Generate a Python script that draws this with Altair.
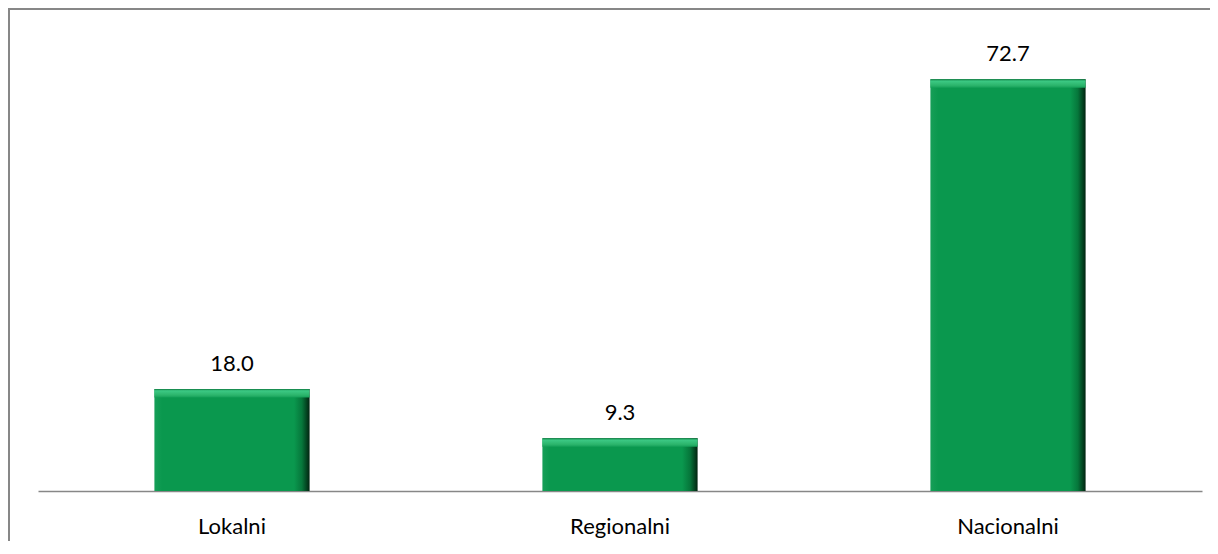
import altair as alt
import pandas as pd

categories = ["Lokalni", "Regionalni", "Nacionalni"]
values = [18.0, 9.3, 72.7]
labels = ["18.0", "9.3", "72.7"]

df = pd.DataFrame({"cat": categories, "val": values, "lab": labels})

FONT = "Lato"

x_enc = alt.X(
    "cat:N",
    sort=categories,
    title=None,
    scale=alt.Scale(paddingInner=0.6, paddingOuter=0.3),
    axis=alt.Axis(
        labelAngle=0,
        labelFont=FONT,
        labelFontSize=22,
        labelFontWeight="normal",
        labelColor="#000000",
        labelBaseline="alphabetic",
        labelPadding=42,
        ticks=False,
        domainColor="#878787",
        domainWidth=1.5,
        grid=False,
    ),
)
y_scale = alt.Scale(domain=[0, 80])

side_grad = alt.LinearGradient(
    gradient="linear",
    x1=0, y1=0, x2=1, y2=0,
    stops=[
        alt.GradientStop(offset=0.0, color="#169f58"),
        alt.GradientStop(offset=0.05, color="#0a984e"),
        alt.GradientStop(offset=0.90, color="#0a984e"),
        alt.GradientStop(offset=0.95, color="#06773b"),
        alt.GradientStop(offset=1.0, color="#012410"),
    ],
)

bars = alt.Chart(df).mark_bar(color=side_grad).encode(
    x=x_enc,
    y=alt.Y("val:Q", scale=y_scale, axis=None, title=None),
)

top_grad = alt.LinearGradient(
    gradient="linear",
    x1=0, y1=0, x2=0, y2=1,
    stops=[
        alt.GradientStop(offset=0.0, color="#0d7a40"),
        alt.GradientStop(offset=0.2, color="#3cc984"),
        alt.GradientStop(offset=0.7, color="#2cb56c"),
        alt.GradientStop(offset=1.0, color="#14a058"),
    ],
)

bevel = alt.Chart(df).transform_calculate(
    v2="datum.val - 1.5"
).mark_bar(color=top_grad).encode(
    x=x_enc,
    y=alt.Y("val:Q", scale=y_scale, axis=None, title=None),
    y2="v2:Q",
)

text = alt.Chart(df).mark_text(
    font=FONT, fontSize=22, color="#000000", baseline="alphabetic", dy=-18
).encode(
    x=alt.X("cat:N", sort=categories),
    y=alt.Y("val:Q", scale=y_scale),
    text="lab:N",
)

border_top = alt.Chart(df).mark_rule(stroke="#878787", strokeWidth=2).encode(
    x=alt.value(-30),
    x2=alt.value(1172),
    y=alt.value(-29),
)
border_left = alt.Chart(df).mark_rule(stroke="#878787", strokeWidth=2).encode(
    x=alt.value(-29),
    y=alt.value(-30),
    y2=alt.value(503),
)

chart = alt.layer(border_top, border_left, bars, bevel, text).properties(
    width=1164,
    height=453,
    autosize=alt.AutoSizeParams(type="none"),
    padding={"left": 30, "top": 30, "right": 8, "bottom": 50},
).configure_view(stroke=None)

chart.save("out.html", embed_options={"renderer": "svg", "actions": False})
